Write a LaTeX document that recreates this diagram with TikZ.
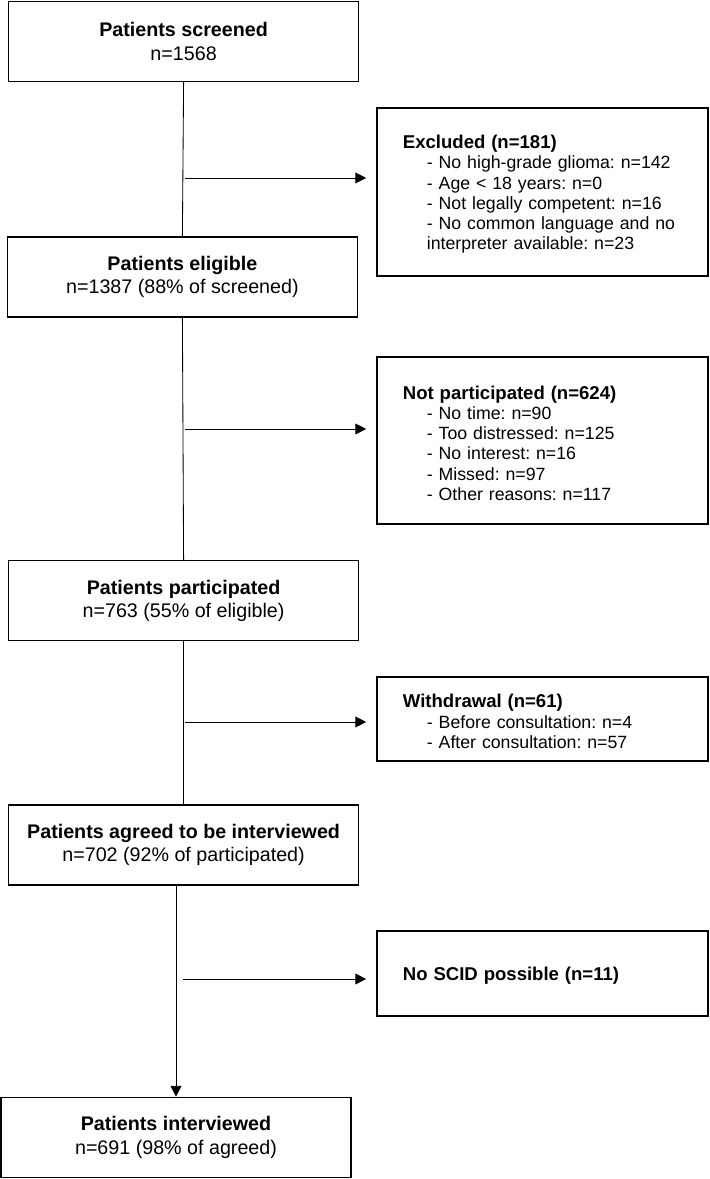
\documentclass[tikz,border=0pt]{standalone}
\usepackage{fontspec}
\setmainfont{Liberation Sans}
\usetikzlibrary{arrows.meta}

\frenchspacing
\newcommand{\itm}{\hspace*{0.6cm}}
\newcommand{\sidetitle}[1]{\rule{0pt}{13pt}{\fontsize{13.2}{14.4}\selectfont\textbf{#1}}}

\begin{document}
\begin{tikzpicture}

    \tikzstyle{mainbox} = [draw, line width=1pt, minimum width=8.75cm, minimum height=2cm, inner sep=0, align=center, font=\fontsize{14}{16.6}\selectfont]
    \tikzstyle{sidebox} = [draw, line width=1pt, text width=6.975cm, inner xsep=0.65cm, inner ysep=0, align=left, font=\fontsize{12.6}{14.4}\selectfont]
    \tikzstyle{flow} = [line width=0.6pt]
    \tikzstyle{arrow} = [line width=0.6pt, -{Triangle[length=2.7mm, width=2.7mm]}, shorten >=0.25cm]
    \tikzstyle{downarrow} = [line width=0.6pt, -{Triangle[length=2.7mm, width=2.7mm]}]

    \useasboundingbox (0,0) rectangle (17.725,29.475);

    \node[mainbox] (screened) at (4.59, 28.44) {\textbf{Patients screened}\\n=1568};
    \node[mainbox] (eligible) at (4.56, 22.55) {\textbf{Patients eligible}\\n=1387 (88\% of screened)};
    \node[mainbox] (participated) at (4.59, 14.46) {\textbf{Patients participated}\\n=763 (55\% of eligible)};
    \node[mainbox] (agreed) at (4.59, 8.35) {\textbf{Patients agreed to be interviewed}\\n=702 (92\% of participated)};
    \node[mainbox] (interviewed) at (4.4, 1.04) {\textbf{Patients interviewed}\\n=691 (98\% of agreed)};

    \node[sidebox, minimum height=4.2cm] (excluded) at (13.56, 24.675) {\sidetitle{Excluded (n=181)}\\
        \itm- No high-grade glioma: n=142\\
        \itm- Age < 18 years: n=0\\
        \itm- Not legally competent: n=16\\
        \itm- No common language and no\\
        \itm interpreter available: n=23};
    \node[sidebox, minimum height=4.175cm] (notpart) at (13.56, 18.46) {\sidetitle{Not participated (n=624)}\\
        \itm- No time: n=90\\
        \itm- Too distressed: n=125\\
        \itm- No interest: n=16\\
        \itm- Missed: n=97\\
        \itm- Other reasons: n=117};
    \node[sidebox, minimum height=2.1cm] (withdrawal) at (13.56, 11.5) {\sidetitle{Withdrawal (n=61)}\\
        \itm- Before consultation: n=4\\
        \itm- After consultation: n=57};
    \node[sidebox, minimum height=2.125cm] (noscid) at (13.56, 5.14) {\sidetitle{No SCID possible (n=11)}};

    \draw[flow] (screened.south) -- (eligible.north);
    \draw[flow] (eligible.south) -- (participated.north);
    \draw[flow] (participated.south) -- (agreed.north);
    \draw[downarrow] (interviewed.north |- agreed.south) -- (interviewed.north);

    \coordinate (toexcl) at (4.625, 25.025);
    \coordinate (tonotpart) at (4.625, 18.75);
    \coordinate (towithdraw) at (4.625, 11.425);
    \coordinate (tonoscid) at (4.575, 5.0);

    \draw[arrow] (toexcl) -- (toexcl -| excluded.west);
    \draw[arrow] (tonotpart) -- (tonotpart -| notpart.west);
    \draw[arrow] (towithdraw) -- (towithdraw -| withdrawal.west);
    \draw[arrow] (tonoscid) -- (tonoscid -| noscid.west);

\end{tikzpicture}
\end{document}
